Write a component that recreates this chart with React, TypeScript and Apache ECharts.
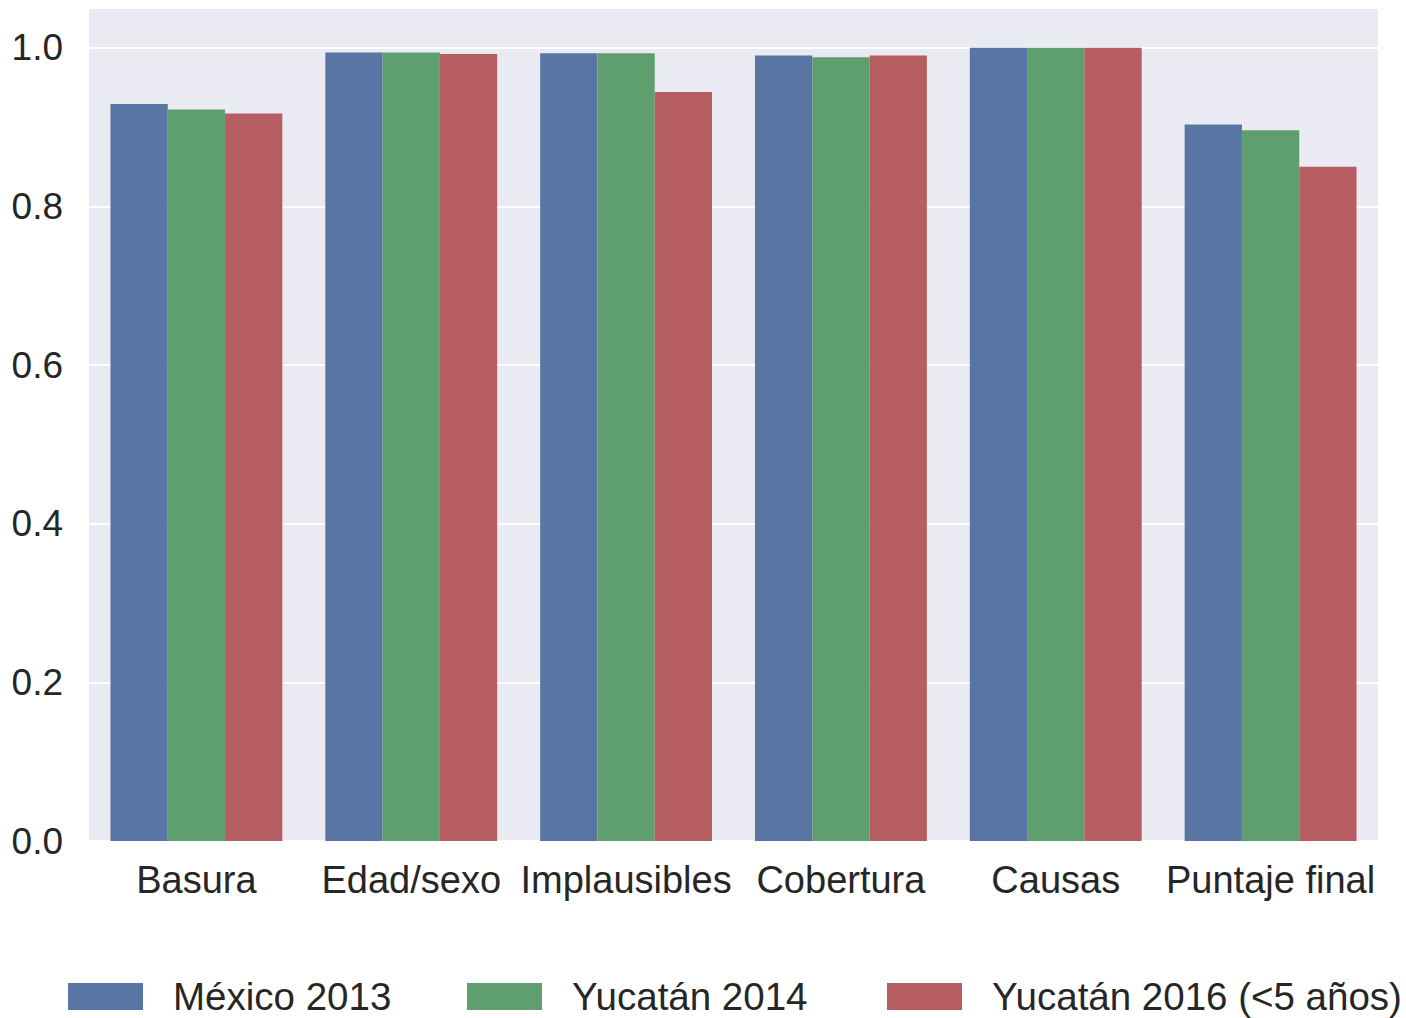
import React, { useEffect, useRef } from "react";
import * as echarts from "echarts";

const categories = ["Basura", "Edad/sexo", "Implausibles", "Cobertura", "Causas", "Puntaje final"];
const seriesNames = ["México 2013", "Yucatán 2014", "Yucatán 2016 (<5 años)"];
const mexico2013 = [0.929, 0.994, 0.993, 0.99, 1.0, 0.903];
const yucatan2014 = [0.922, 0.994, 0.993, 0.988, 1.0, 0.896];
const yucatan2016 = [0.917, 0.992, 0.944, 0.99, 1.0, 0.85];
const colors = ["#5975a4", "#5f9e6e", "#b55d60"];
const legendLefts = [68, 467, 887];

const FONT = "'Liberation Sans', Arial, sans-serif";

export default function App() {
  const ref = useRef<HTMLDivElement>(null);
  useEffect(() => {
    if (!ref.current) return;
    const chart = echarts.init(ref.current, undefined, { renderer: "svg" });
    const values = [mexico2013, yucatan2014, yucatan2016];
    chart.setOption({
      animation: false,
      backgroundColor: "#ffffff",
      textStyle: { fontFamily: FONT },
      grid: {
        left: 89,
        right: 28,
        top: 8,
        bottom: 177,
        show: true,
        backgroundColor: "#EAEAF2",
        borderWidth: 0,
      },
      legend: seriesNames.map((name, i) => ({
        data: [name],
        left: legendLefts[i],
        top: 977,
        padding: 0,
        itemWidth: 75,
        itemHeight: 27,
        icon: "rect",
        selectedMode: false,
        textStyle: {
          fontSize: 38.5,
          color: "#262626",
          fontFamily: FONT,
          padding: [0, 0, 0, 25],
        },
      })),
      xAxis: {
        type: "category",
        data: categories,
        axisLine: { show: false },
        axisTick: { show: false },
        splitLine: { show: false },
        axisLabel: {
          fontSize: 38,
          color: "#262626",
          fontFamily: FONT,
          margin: 20,
          interval: 0,
        },
      },
      yAxis: {
        type: "value",
        min: 0,
        max: 1.05,
        interval: 0.2,
        axisLine: { show: false },
        axisTick: { show: false },
        splitLine: { show: true, lineStyle: { color: "#ffffff", width: 2 } },
        axisLabel: {
          fontSize: 37,
          color: "#262626",
          fontFamily: FONT,
          margin: 26,
          showMaxLabel: false,
          formatter: (v: number) => v.toFixed(1),
        },
      },
      series: seriesNames.map((name, i) => ({
        name,
        type: "bar",
        data: values[i],
        barGap: "0%",
        barCategoryGap: "20%",
        itemStyle: { color: colors[i] },
      })),
    });
    return () => chart.dispose();
  }, []);
  return <div ref={ref} style={{ width: 1406, height: 1018, position: "absolute", left: 0, top: 0 }} />;
}
